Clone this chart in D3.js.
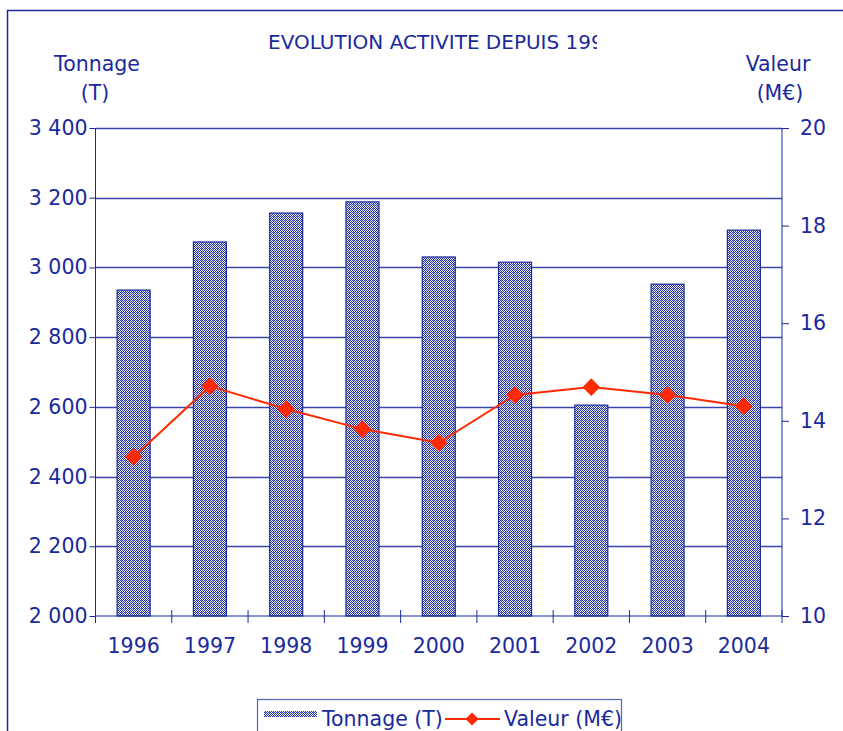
<!DOCTYPE html>
<html>
<head>
<meta charset="utf-8">
<script src="https://cdn.jsdelivr.net/npm/d3@7"></script>
<style>
  body { margin: 0; background: #fff; }
  text { font-family: "DejaVu Sans", Verdana, sans-serif; fill: #1a2a9c; }
</style>
</head>
<body>
<script>
// données
const annees = ["1996", "1997", "1998", "1999", "2000", "2001", "2002", "2003", "2004"];
const tonnage = [2935, 3073, 3156, 3188, 3030, 3015, 2605, 2952, 3107];
const valeur = [13.26, 14.71, 14.24, 13.83, 13.55, 14.53, 14.69, 14.53, 14.3];
const ticksGauche = [2000, 2200, 2400, 2600, 2800, 3000, 3200, 3400];
const ticksDroite = [10, 12, 14, 16, 18, 20];

const WIDTH = 843;
const HEIGHT = 731;
const BLEU = "#1a2a9c";
const ROUGE = "#ff2a00";
const POLICE = 20.5;

const svg = d3.select("body").append("svg")
  .attr("width", WIDTH)
  .attr("height", HEIGHT);

// motif des barres (damier bleu)
const defs = svg.append("defs");
const motif = defs.append("pattern")
  .attr("id", "hachure")
  .attr("patternUnits", "userSpaceOnUse")
  .attr("width", 4).attr("height", 4);
motif.append("rect").attr("width", 4).attr("height", 4).attr("fill", "#eceefa");
[[0, 0], [2, 0], [1, 1], [3, 1], [0, 2], [2, 2], [1, 3], [3, 3]].forEach(p => {
  motif.append("rect").attr("x", p[0]).attr("y", p[1]).attr("width", 1).attr("height", 1)
    .attr("fill", "#2532a4");
});
motif.append("rect").attr("x", 1).attr("y", 0).attr("width", 1).attr("height", 1).attr("fill", "#8a92d4");

// cadre extérieur
svg.append("path")
  .attr("d", "M7.5," + HEIGHT + " V10.5 H" + WIDTH)
  .attr("fill", "none").attr("stroke", BLEU).attr("stroke-width", 1.5);

const gauche = 95.5, droite = 782, haut = 128, bas = 616;

const x = d3.scaleBand().domain(annees).range([gauche, droite]);
const yG = d3.scaleLinear().domain([2000, 3400]).range([bas, haut]);
const yD = d3.scaleLinear().domain([10, 20]).range([bas, haut]);

// grille
svg.append("g").selectAll("line")
  .data(ticksGauche.slice(1))
  .enter().append("line")
  .attr("x1", gauche).attr("x2", droite)
  .attr("y1", d => Math.round(yG(d)) + 0.5)
  .attr("y2", d => Math.round(yG(d)) + 0.5)
  .attr("stroke", "#3a46aa").attr("stroke-width", 1.3);

// barres
const largeur = 33;
svg.append("g").selectAll("rect")
  .data(tonnage)
  .enter().append("rect")
  .attr("x", (d, i) => x(annees[i]) + x.bandwidth() / 2 - largeur / 2)
  .attr("y", d => yG(d))
  .attr("width", largeur)
  .attr("height", d => bas - yG(d))
  .attr("fill", "url(#hachure)")
  .attr("stroke", BLEU).attr("stroke-width", 1.2);

// axe gauche
const axeG = svg.append("g")
  .attr("transform", "translate(" + gauche + ",0)")
  .call(d3.axisLeft(yG).tickValues(ticksGauche).tickSize(6).tickPadding(2)
    .tickFormat(d => d3.format(",")(d).replace(",", " ")));
axeG.selectAll("line, path").attr("stroke", BLEU);
axeG.select(".domain").attr("d", "M0," + bas + "V" + haut);
axeG.selectAll("text").attr("font-size", POLICE).attr("fill", BLEU)
  .style("font-family", "DejaVu Sans, Verdana, sans-serif");

// axe droit
const axeD = svg.append("g")
  .attr("transform", "translate(" + droite + ",0)")
  .call(d3.axisRight(yD).tickValues(ticksDroite).tickSize(7).tickPadding(11));
axeD.selectAll("line, path").attr("stroke", BLEU);
axeD.select(".domain").attr("d", "M0," + bas + "V" + haut);
axeD.selectAll("text").attr("font-size", POLICE).attr("fill", BLEU)
  .style("font-family", "DejaVu Sans, Verdana, sans-serif");

// axe des années
const axeX = svg.append("g")
  .attr("transform", "translate(0," + bas + ")")
  .call(d3.axisBottom(x).tickSize(0).tickPadding(22));
axeX.select(".domain").attr("stroke", BLEU).attr("d", "M" + gauche + ",0H" + droite);
axeX.selectAll("text").attr("font-size", POLICE).attr("fill", BLEU)
  .style("font-family", "DejaVu Sans, Verdana, sans-serif");
svg.append("g").selectAll("line")
  .data(annees.concat(["fin"]))
  .enter().append("line")
  .attr("x1", (d, i) => gauche + i * x.step())
  .attr("x2", (d, i) => gauche + i * x.step())
  .attr("y1", bas - 6).attr("y2", bas + 7)
  .attr("stroke", BLEU);

// ligne valeur
const ligne = d3.line()
  .x((d, i) => x(annees[i]) + x.bandwidth() / 2)
  .y(d => yD(d));
svg.append("path")
  .datum(valeur)
  .attr("d", ligne)
  .attr("fill", "none").attr("stroke", ROUGE).attr("stroke-width", 2);
svg.append("g").selectAll("path")
  .data(valeur)
  .enter().append("path")
  .attr("d", d3.symbol(d3.symbolSquare, 155))
  .attr("transform", (d, i) => "translate(" + (x(annees[i]) + x.bandwidth() / 2) + "," + yD(d) + ") rotate(45)")
  .attr("fill", ROUGE);

// titres
const clip = defs.append("clipPath").attr("id", "coupe");
clip.append("rect").attr("x", 0).attr("y", 0).attr("width", 597).attr("height", 100);
svg.append("text")
  .attr("x", 268).attr("y", 49)
  .attr("font-size", POLICE - 0.5)
  .attr("clip-path", "url(#coupe)")
  .text("EVOLUTION ACTIVITE DEPUIS 1996");

svg.append("text").attr("x", 97).attr("y", 71).attr("text-anchor", "middle").attr("font-size", POLICE).text("Tonnage");
svg.append("text").attr("x", 95).attr("y", 100).attr("text-anchor", "middle").attr("font-size", POLICE).text("(T)");
svg.append("text").attr("x", 778).attr("y", 71).attr("text-anchor", "middle").attr("font-size", POLICE).text("Valeur");
svg.append("text").attr("x", 780).attr("y", 100).attr("text-anchor", "middle").attr("font-size", POLICE).text("(M€)");

// légende
const leg = svg.append("g");
leg.append("rect")
  .attr("x", 257.5).attr("y", 699.5).attr("width", 364).attr("height", 40)
  .attr("fill", "none").attr("stroke", "#5a64bc").attr("stroke-width", 1.2);
leg.append("rect")
  .attr("x", 264).attr("y", 711).attr("width", 53).attr("height", 6)
  .attr("fill", "url(#hachure)");
leg.append("text").attr("x", 322).attr("y", 726).attr("font-size", POLICE).text("Tonnage (T)");
leg.append("line")
  .attr("x1", 445).attr("x2", 500).attr("y1", 719).attr("y2", 719)
  .attr("stroke", ROUGE).attr("stroke-width", 2);
leg.append("path")
  .attr("d", d3.symbol(d3.symbolSquare, 85))
  .attr("transform", "translate(472,719) rotate(45)")
  .attr("fill", ROUGE);
leg.append("text").attr("x", 504).attr("y", 726).attr("font-size", POLICE).text("Valeur (M€)");
</script>
</body>
</html>
